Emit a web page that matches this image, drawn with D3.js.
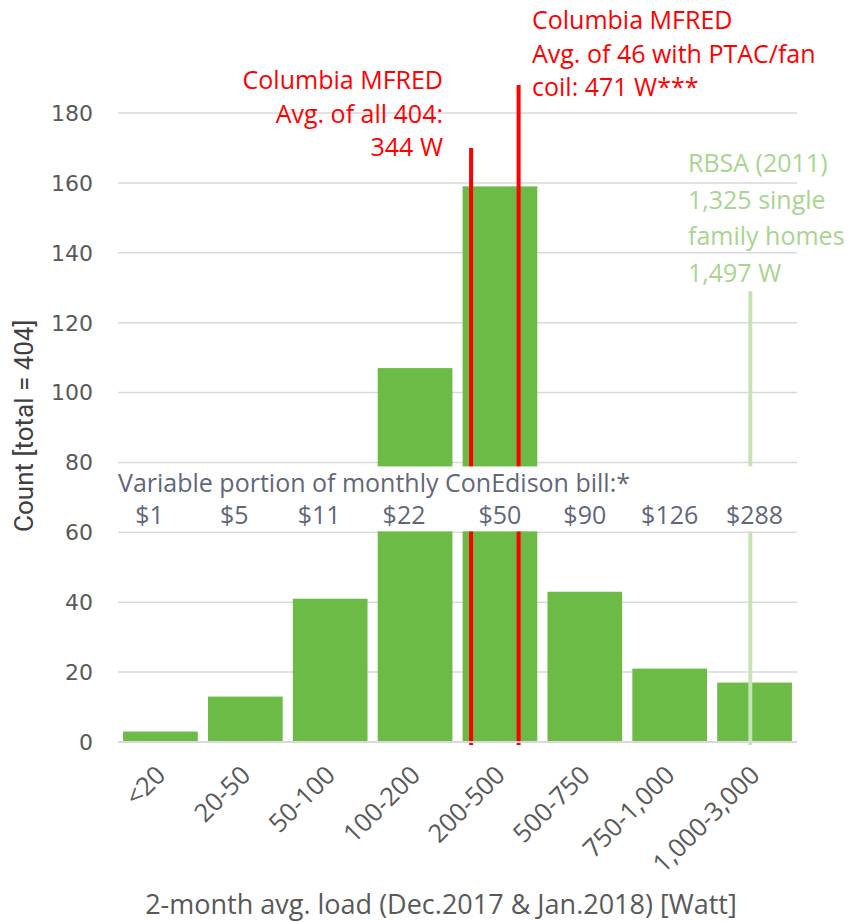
<!DOCTYPE html>
<html>
<head>
<meta charset="utf-8">
<script src="https://cdn.jsdelivr.net/npm/d3@7"></script>
<style>
  body { margin: 0; background: #fff; }
  text { font-family: "Open Sans", "Lato", sans-serif; }
  .narrow { font-family: "Liberation Sans Narrow", "Roboto", sans-serif; }
</style>
</head>
<body>
<div id="container"></div>
<script>
/**
 * DATA
 * */
const categories = ["<20", "20-50", "50-100", "100-200", "200-500", "500-750", "750-1,000", "1,000-3,000"];
const counts = [3, 13, 41, 107, 159, 43, 21, 17];
const billLabels = ["$1", "$5", "$11", "$22", "$50", "$90", "$126", "$288"];
const yTicks = [0, 20, 40, 60, 80, 100, 120, 140, 160, 180];

// reference lines: position in category units (0..8), top in count units
const refLines = [
  { pos: 4.16, top: 170, color: "red" },
  { pos: 4.72, top: 188, color: "red" },
  { pos: 7.45, top: 129, color: "#c6e3b5" }
];
const noteAll = ["Columbia MFRED", "Avg. of all 404:", "344 W"];
const notePtac = ["Columbia MFRED", "Avg. of 46 with PTAC/fan", "coil: 471 W***"];
const noteRbsa = ["RBSA (2011)", "1,325 single", "family homes", "1,497 W"];
const bandTitle = "Variable portion of monthly ConEdison bill:*";

/**
 * CONSTANTS
 * */
const width = 853, height = 922,
  margin = { top: 113, bottom: 180, left: 118, right: 56 };

const svg = d3.select("#container")
  .append("svg")
  .attr("width", width)
  .attr("height", height);

// scales
const x = d3.scaleBand()
  .domain(categories)
  .range([margin.left, width - margin.right])
  .paddingInner(0.12)
  .paddingOuter(0.06);

const xPos = d3.scaleLinear()
  .domain([0, categories.length])
  .range([margin.left, width - margin.right]);

const y = d3.scaleLinear()
  .domain([0, 180])
  .range([height - margin.bottom, margin.top]);

// gridlines
svg.append("g")
  .selectAll("line")
  .data(yTicks)
  .join("line")
  .attr("x1", margin.left)
  .attr("x2", width - margin.right)
  .attr("y1", d => y(d))
  .attr("y2", d => y(d))
  .attr("stroke", "#d9d9d9")
  .attr("stroke-width", 1.5);

// y tick labels
svg.append("g")
  .selectAll("text")
  .data(yTicks)
  .join("text")
  .attr("x", 93)
  .attr("y", d => y(d))
  .attr("dy", "0.36em")
  .attr("text-anchor", "end")
  .attr("fill", "#595959")
  .attr("font-size", 22)
  .style("font-family", "DejaVu Sans")
  .text(d => d);

// bars
svg.append("g")
  .selectAll("rect")
  .data(counts)
  .join("rect")
  .attr("x", (d, i) => x(categories[i]))
  .attr("width", x.bandwidth())
  .attr("y", d => y(d))
  .attr("height", d => y(0) - y(d))
  .attr("fill", "#6cbb46");

// reference lines
svg.append("g")
  .selectAll("line")
  .data(refLines)
  .join("line")
  .attr("x1", d => xPos(d.pos))
  .attr("x2", d => xPos(d.pos))
  .attr("y1", d => y(d.top))
  .attr("y2", y(0) + 3)
  .attr("stroke", d => d.color)
  .attr("stroke-width", 4);

// x axis line
svg.append("line")
  .attr("x1", margin.left)
  .attr("x2", width - margin.right)
  .attr("y1", y(0))
  .attr("y2", y(0))
  .attr("stroke", "#d9d9d9")
  .attr("stroke-width", 2);

// white band with bill labels
svg.append("rect")
  .attr("x", margin.left)
  .attr("width", width - margin.right - margin.left)
  .attr("y", y(80) + 4)
  .attr("height", y(60) - y(80) - 5)
  .attr("fill", "#fff");

svg.append("text")
  .attr("x", margin.left)
  .attr("y", y(80) + 30)
  .attr("fill", "#5f6779")
  .attr("font-size", 25)
  .text(bandTitle);

svg.append("g")
  .selectAll("text")
  .data(billLabels)
  .join("text")
  .attr("x", (d, i) => x(categories[i]) + x.bandwidth() / 2 - (i < 4 ? 11 : 0))
  .attr("y", y(80) + 62)
  .attr("text-anchor", "middle")
  .attr("fill", "#5f6779")
  .attr("font-size", 25)
  .text(d => d);

// x tick labels
svg.append("g")
  .selectAll("text")
  .data(categories)
  .join("text")
  .attr("transform", d => `translate(${x(d) + x.bandwidth() / 2 - 6},${y(0) + 22}) rotate(-45)`)
  .attr("text-anchor", "end")
  .attr("dy", "0.7em")
  .attr("fill", "#595959")
  .attr("font-size", 25.5)
  .text(d => d);

// annotations
function note(lines, xx, yy, anchor, color, lh) {
  svg.append("text")
    .attr("text-anchor", anchor)
    .attr("fill", color)
    .attr("font-size", 25)
    .selectAll("tspan")
    .data(lines)
    .join("tspan")
    .attr("x", xx)
    .attr("y", (d, i) => yy + i * lh)
    .text(d => d);
}
note(noteAll, 443, 89, "end", "red", 33.5);
note(notePtac, 532, 29, "start", "red", 33.5);
note(noteRbsa, 688, 172, "start", "#a9d48f", 36.5);

// axis titles
svg.append("text")
  .attr("class", "narrow")
  .attr("transform", `translate(33,${y(90.5)}) rotate(-90)`)
  .attr("text-anchor", "middle")
  .attr("fill", "#404040")
  .attr("font-size", 26)
  .text("Count [total = 404]");

svg.append("text")
  .attr("x", 441)
  .attr("y", 914)
  .attr("text-anchor", "middle")
  .attr("fill", "#595959")
  .attr("font-size", 27)
  .text("2-month avg. load (Dec.2017 & Jan.2018) [Watt]");
</script>
</body>
</html>
